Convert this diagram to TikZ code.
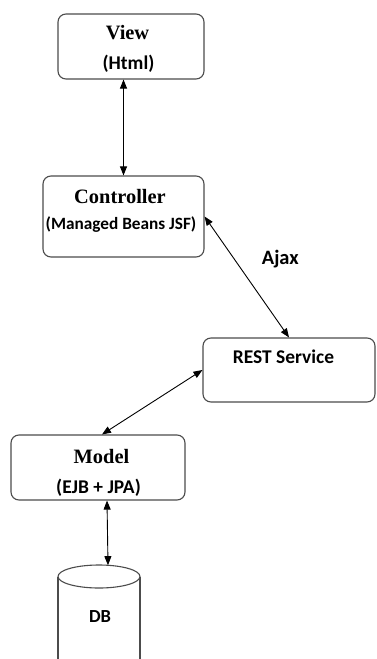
\documentclass[tikz,border=0pt]{standalone}
\usepackage{fontspec}
\setmainfont{Liberation Serif}
\newfontfamily\calibri{Carlito}
\usetikzlibrary{arrows.meta}

\begin{document}
\begin{tikzpicture}[x=1bp, y=-1bp,
        layer/.style={draw=black!70, line width=1.1bp, rounded corners=8bp, fill=white, inner sep=0pt},
        link/.style={{Triangle[length=9bp,width=7bp]}-{Triangle[length=9bp,width=7bp]}, line width=0.9bp},
        title/.style={anchor=base, font=\bfseries\fontsize{20.5}{24}\selectfont},
        sub/.style={anchor=base, font=\calibri\bfseries\fontsize{19.5}{23}\selectfont}]

        \clip (0,0) rectangle (376,659);
        \fill[white] (0,0) rectangle (376,659);

        % boxes
        \node[layer, minimum width=146bp, minimum height=65bp] (view) at (131,46.5) {};
        \node[layer, minimum width=161bp, minimum height=81bp] (ctrl) at (123.5,216.5) {};
        \node[layer, minimum width=172bp, minimum height=64bp] (rest) at (289,370) {};
        \node[layer, minimum width=174bp, minimum height=65bp] (model) at (98,467.5) {};

        % database drum, running off the bottom edge
        \draw[draw=black!70, line width=1.1bp] (58,576.5) -- (58,672) (140,576.5) -- (140,672);
        \draw[draw=black!70, line width=1.1bp] (99,576.5) ellipse [x radius=41, y radius=11.5];
        \coordinate (dbtop) at (108,565.2);

        % texts
        \node[title] (viewname) at (127.5,40) {View};
        \node[sub] (viewsub) at (128.5,70) {(Html)};
        \node[title] (ctrlname) at (120,203) {Controller};
        \node[sub, font=\calibri\bfseries\fontsize{17.3}{21}\selectfont] (ctrlsub) at (121,229) {(Managed Beans JSF)};
        \node[sub] (restname) at (283.5,363) {REST Service};
        \node[title] (modelname) at (101.5,463) {Model};
        \node[sub] (modelsub) at (98.5,493) {(EJB + JPA)};
        \node[sub, font=\calibri\bfseries\fontsize{18.5}{22}\selectfont] (dbname) at (100,622) {DB};

        % connections
        \draw[link] (ctrl.north |- view.south) -- (ctrl.north);
        \draw[link] (ctrl.east) -- (rest.north) node[sub, font=\calibri\bfseries\fontsize{20.5}{24}\selectfont, pos=0.4, xshift=42bp] (ajax) {Ajax};
        \draw[link] (rest.west) -- ([xshift=4bp]model.north);
        \draw[link] ([xshift=9bp]model.south) -- (dbtop);

\end{tikzpicture}
\end{document}
